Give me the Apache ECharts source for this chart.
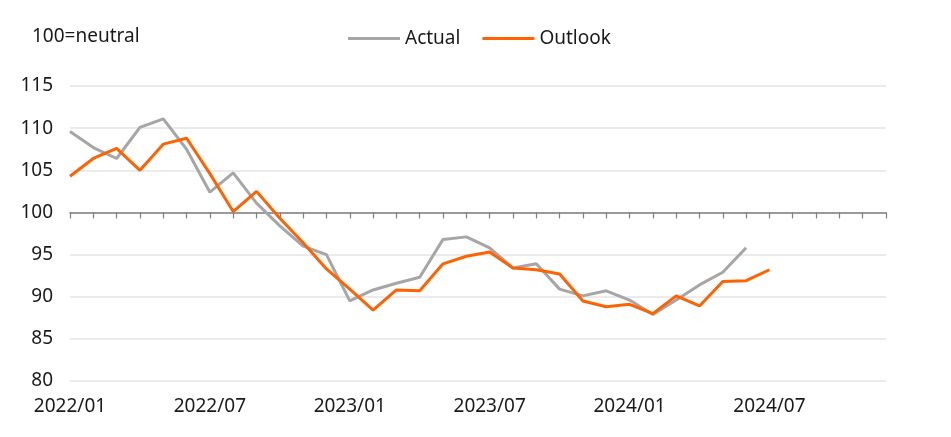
<!DOCTYPE html>
<html>
<head>
<meta charset="utf-8">
<script src="https://cdn.jsdelivr.net/npm/echarts@6/dist/echarts.min.js"></script>
<style>
  html, body { margin: 0; padding: 0; background: #fff; }
  #chart { width: 951px; height: 437px; }
</style>
</head>
<body>
<div id="chart"></div>
<script>
// 月份 2022/01 - 2024/12
const months = [];
for (let y = 2022; y <= 2024; y++) {
    for (let m = 1; m <= 12; m++) {
        months.push(y + '/' + (m < 10 ? '0' + m : m));
    }
}

// 实际值（到 2024/06）
const actual = [
    109.6, 107.7, 106.4, 110.1, 111.1, 107.5, 102.4, 104.7, 101.1, 98.4,
    96.0, 95.0, 89.5, 90.8, 91.6, 92.3, 96.8, 97.1, 95.8, 93.4,
    93.9, 90.9, 90.1, 90.7, 89.6, 87.9, 89.6, 91.4, 92.9, 95.8
];

// 展望值（到 2024/07）
const outlook = [
    104.3, 106.4, 107.6, 105.0, 108.1, 108.8, 104.6, 100.1, 102.5, 99.3,
    96.4, 93.3, 90.9, 88.4, 90.8, 90.7, 93.9, 94.8, 95.3, 93.4,
    93.2, 92.7, 89.5, 88.8, 89.1, 88.0, 90.1, 88.9, 91.8, 91.9,
    93.2
];

const yMin = 80;
const yMax = 115;
const yStep = 5;
const neutral = 100;

const font = 'Noto Sans';
const textColor = '#1a1a1a';
const fontSize = 19;

// 网格尺寸（用于把刻度轴放在 100 的位置）
const gridTop = 86;
const gridBottom = 56;
const plotHeight = 437 - gridTop - gridBottom;
const neutralOffset = -plotHeight * (neutral - yMin) / (yMax - yMin);

const chart = echarts.init(document.getElementById('chart'), null, { renderer: 'canvas' });

const option = {
    animation: false,
    backgroundColor: '#fff',
    textStyle: { fontFamily: font },
    title: {
        text: '100=neutral',
        left: 27,
        top: 22,
        textStyle: { fontFamily: font, fontSize: fontSize, fontWeight: 'normal', color: textColor }
    },
    legend: {
        left: 343,
        top: 24,
        itemWidth: 52,
        itemHeight: 3,
        itemGap: 22,
        icon: 'rect',
        textStyle: { fontFamily: font, fontSize: fontSize, color: textColor },
        data: ['Actual', 'Outlook']
    },
    grid: {
        left: 70,
        right: 65,
        top: gridTop,
        bottom: gridBottom,
        containLabel: false
    },
    xAxis: [
        {
            type: 'category',
            data: months,
            boundaryGap: false,
            axisLine: { show: false },
            axisTick: { show: false },
            axisLabel: {
                interval: 5,
                margin: 16,
                fontFamily: font,
                fontSize: fontSize,
                color: textColor
            },
            splitLine: { show: false }
        },
        {
            // 100 处的横轴线和刻度
            type: 'category',
            data: months,
            position: 'bottom',
            offset: neutralOffset,
            boundaryGap: false,
            axisLine: { show: true, lineStyle: { color: '#808080', width: 1.5 } },
            axisTick: {
                show: true,
                interval: 0,
                length: 6,
                lineStyle: { color: '#808080', width: 1.2 }
            },
            axisLabel: { show: false },
            splitLine: { show: false }
        }
    ],
    yAxis: {
        type: 'value',
        min: yMin,
        max: yMax,
        interval: yStep,
        axisLine: { show: false },
        axisTick: { show: false },
        axisLabel: {
            margin: 17,
            fontFamily: font,
            fontSize: fontSize,
            color: textColor
        },
        splitLine: {
            lineStyle: { color: '#e4e4e4', width: 1.5 }
        }
    },
    series: [
        {
            name: 'Actual',
            type: 'line',
            data: actual,
            symbol: 'none',
            itemStyle: { color: '#a6a6a6' },
            lineStyle: { color: '#a6a6a6', width: 3 },
            z: 2
        },
        {
            name: 'Outlook',
            type: 'line',
            data: outlook,
            symbol: 'none',
            itemStyle: { color: '#ff6200' },
            lineStyle: { color: '#ff6200', width: 3 },
            z: 3
        }
    ]
};

chart.setOption(option);
</script>
</body>
</html>
